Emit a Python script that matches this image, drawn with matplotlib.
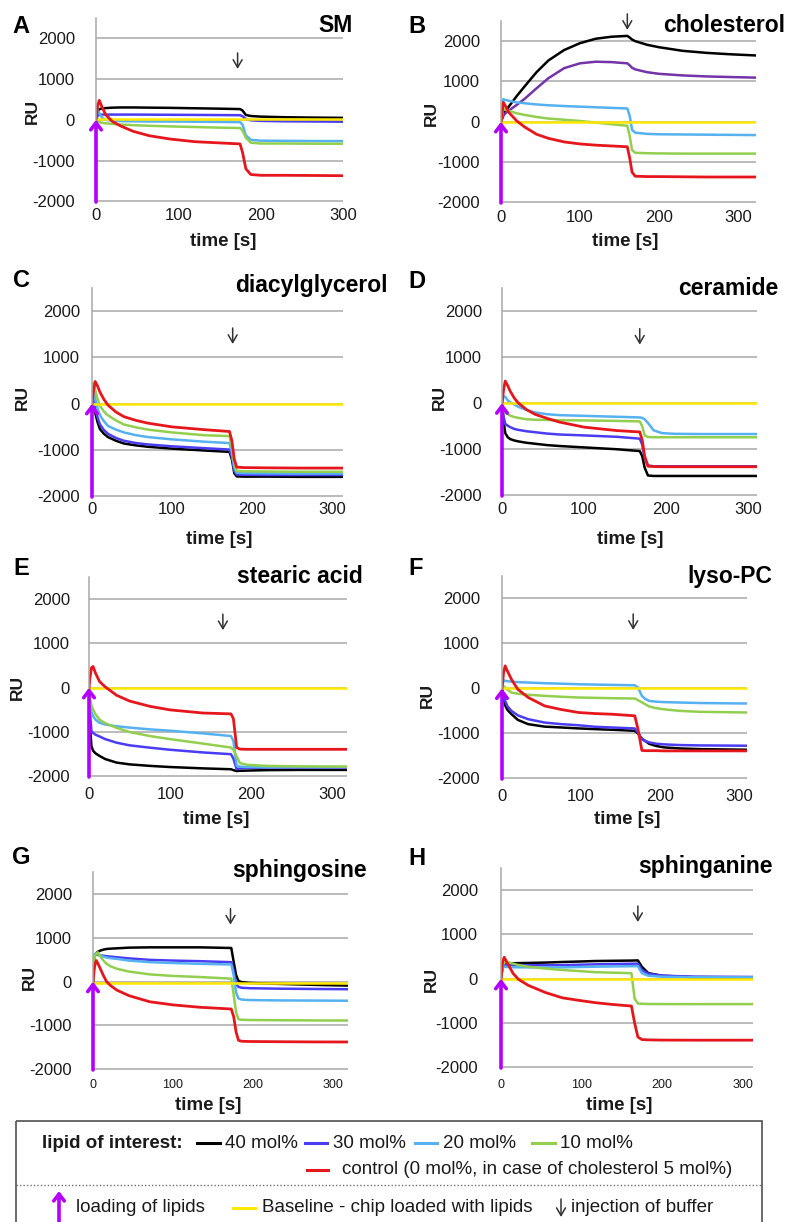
import matplotlib
matplotlib.use('Agg')
import matplotlib.pyplot as plt
from matplotlib.patches import Rectangle

plt.rcParams['font.family'] = ['Liberation Sans', 'DejaVu Sans']

# ---------- Sensorgrams (time in s, response in RU)
# A: SM
t_sm = [0, 2, 4, 7, 12, 20, 30, 45, 65, 90, 120, 150, 175, 178, 182, 188, 200, 230, 270, 300]
sm_40 = [0, 200, 260, 280, 290, 300, 305, 305, 300, 295, 285, 275, 265, 230, 120, 95, 80, 65, 55, 50]
sm_30 = [0, 100, 125, 130, 130, 130, 130, 130, 128, 125, 122, 118, 115, 90, 20, -10, -25, -35, -40, -45]
sm_20 = [0, 250, 170, 60, 0, -20, -30, -35, -40, -40, -45, -50, -55, -120, -380, -490, -510, -515, -520, -520]
sm_10 = [0, -30, -50, -70, -85, -100, -115, -130, -145, -160, -175, -190, -200, -260, -440, -560, -580, -580, -585, -585]
sm_ctrl = [0, 350, 480, 330, 120, -40, -150, -280, -390, -470, -535, -565, -590, -800, -1200, -1340, -1360, -1360, -1365, -1370]
sm_base = [20, 20]

# B: cholesterol
t_chol = [0, 3, 6, 10, 20, 30, 45, 60, 80, 100, 120, 140, 160, 163, 166, 170, 185, 200, 230, 260, 290, 323]
chol_40 = [0, 180, 270, 380, 640, 880, 1230, 1520, 1780, 1950, 2060, 2110, 2130, 2090, 2040, 2000, 1910, 1850, 1760, 1710, 1675, 1645]
chol_30 = [0, 150, 220, 280, 420, 570, 830, 1080, 1330, 1450, 1490, 1480, 1450, 1400, 1340, 1300, 1230, 1190, 1150, 1125, 1110, 1095]
chol_20 = [0, 560, 540, 520, 480, 460, 430, 410, 390, 375, 360, 345, 330, 150, -200, -270, -300, -310, -315, -320, -325, -330]
chol_10 = [0, 330, 300, 270, 210, 170, 120, 80, 50, 20, -20, -60, -100, -350, -700, -770, -780, -785, -790, -790, -790, -790]
chol_ctrl = [0, 480, 380, 230, 20, -130, -310, -410, -500, -550, -580, -600, -620, -900, -1250, -1350, -1360, -1360, -1365, -1370, -1370, -1370]
chol_base = [0, 0]

# C: diacylglycerol
t_dag = [0, 2, 4, 7, 10, 15, 20, 30, 40, 55, 70, 100, 140, 172, 175, 178, 181, 190, 220, 260, 314]
dag_40 = [0, 100, -200, -400, -550, -650, -720, -800, -860, -900, -930, -970, -1010, -1040, -1200, -1500, -1570, -1575, -1575, -1580, -1580]
dag_30 = [0, 150, -100, -300, -450, -570, -650, -740, -800, -850, -880, -920, -960, -990, -1150, -1450, -1530, -1535, -1540, -1540, -1540]
dag_20 = [0, 300, 100, -100, -250, -380, -480, -560, -620, -680, -720, -770, -820, -850, -1050, -1380, -1490, -1500, -1505, -1510, -1510]
dag_10 = [0, 450, 300, 100, -50, -170, -250, -360, -450, -510, -560, -620, -680, -700, -950, -1300, -1450, -1460, -1465, -1470, -1470]
dag_ctrl = [0, 300, 480, 380, 250, 90, -30, -180, -280, -360, -420, -500, -560, -600, -800, -1200, -1370, -1380, -1385, -1390, -1390]
dag_base = [0, 0]

# D: ceramide
t_cer = [0, 2, 4, 7, 10, 15, 20, 30, 40, 55, 70, 100, 140, 168, 171, 174, 178, 185, 195, 210, 240, 311]
cer_40 = [0, -400, -650, -740, -780, -810, -830, -860, -880, -910, -930, -960, -1000, -1040, -1150, -1400, -1570, -1580, -1580, -1580, -1580, -1580]
cer_30 = [0, -300, -450, -490, -520, -560, -580, -610, -630, -660, -680, -700, -730, -770, -900, -1200, -1350, -1370, -1370, -1370, -1370, -1370]
cer_20 = [0, 150, 140, 60, 20, -30, -80, -150, -200, -240, -260, -275, -295, -310, -320, -350, -430, -590, -650, -665, -670, -670]
cer_10 = [0, -150, -200, -240, -270, -300, -320, -350, -360, -365, -370, -375, -385, -395, -500, -700, -735, -740, -740, -740, -740, -740]
cer_ctrl = [0, 300, 480, 380, 260, 110, 0, -140, -240, -330, -410, -520, -595, -625, -800, -1150, -1370, -1375, -1380, -1380, -1380, -1380]
cer_base = [0, 0]

# E: stearic acid
t_stear = [0, 1, 3, 5, 8, 13, 20, 34, 50, 75, 100, 140, 175, 178, 182, 186, 195, 220, 260, 318]
stear_40 = [0, -800, -1320, -1420, -1480, -1540, -1610, -1690, -1730, -1764, -1790, -1820, -1840, -1860, -1880, -1875, -1870, -1860, -1855, -1855]
stear_30 = [0, -500, -980, -1020, -1060, -1100, -1160, -1240, -1300, -1353, -1400, -1460, -1500, -1600, -1840, -1820, -1810, -1800, -1800, -1800]
stear_20 = [0, -300, -550, -640, -720, -790, -830, -870, -900, -940, -970, -1030, -1090, -1200, -1760, -1780, -1790, -1790, -1790, -1790]
stear_10 = [0, -200, -400, -490, -600, -720, -800, -905, -1000, -1090, -1160, -1260, -1350, -1400, -1550, -1700, -1740, -1765, -1775, -1780]
stear_ctrl = [0, 200, 450, 480, 330, 140, 20, -170, -300, -420, -500, -570, -590, -700, -1350, -1385, -1390, -1390, -1390, -1390]
stear_base = [0, 0]

# F: lyso-PC
t_lyso = [0, 2, 4, 7, 12, 20, 33, 54, 75, 97, 118, 140, 168, 172, 177, 181, 186, 195, 205, 225, 250, 310]
lyso_40 = [0, -240, -380, -480, -573, -700, -795, -850, -869, -890, -906, -920, -943, -1000, -1120, -1165, -1230, -1280, -1312, -1335, -1350, -1364]
lyso_30 = [0, -166, -280, -400, -500, -600, -684, -760, -795, -820, -854, -870, -891, -980, -1128, -1170, -1200, -1230, -1245, -1260, -1268, -1275]
lyso_20 = [0, 180, 170, 160, 150, 140, 130, 115, 105, 92, 85, 78, 70, 20, -166, -230, -277, -295, -305, -314, -325, -336]
lyso_10 = [0, 50, 20, -30, -92, -120, -140, -166, -185, -203, -210, -218, -225, -260, -310, -350, -400, -440, -465, -500, -520, -536]
lyso_ctrl = [0, 350, 500, 380, 200, -20, -200, -390, -470, -536, -560, -575, -610, -900, -1380, -1385, -1385, -1385, -1390, -1390, -1390, -1390]
lyso_base = [0, 0]

# G: sphingosine
t_sph = [0, 2, 4, 6, 9, 13, 17, 22, 30, 45, 71, 100, 134, 173, 176, 179, 182, 186, 196, 230, 280, 319]
sph_40 = [0, 600, 650, 680, 707, 730, 745, 752, 760, 775, 782, 782, 782, 767, 450, 150, 15, -10, -30, -50, -75, -90]
sph_30 = [0, 600, 616, 610, 600, 590, 580, 570, 556, 530, 496, 480, 466, 444, 250, -60, -120, -140, -150, -160, -168, -173]
sph_20 = [0, 620, 646, 630, 600, 570, 550, 535, 519, 480, 444, 425, 406, 391, 150, -250, -383, -410, -420, -428, -432, -436]
sph_10 = [0, 550, 640, 670, 580, 480, 406, 350, 293, 230, 165, 130, 105, 68, -300, -700, -857, -870, -875, -880, -885, -887]
sph_ctrl = [0, 350, 481, 420, 300, 140, 0, -90, -195, -320, -459, -530, -585, -624, -800, -1150, -1338, -1360, -1365, -1370, -1375, -1376]
sph_base = [-20, -20]

# H: sphinganine
t_sphn = [0, 2, 4, 8, 15, 22, 34, 55, 76, 96, 117, 138, 162, 166, 170, 175, 183, 200, 240, 313]
sphn_40 = [0, 300, 342, 345, 350, 353, 357, 365, 378, 388, 400, 405, 410, 412, 414, 270, 126, 68, 35, 32]
sphn_30 = [0, 280, 306, 306, 306, 306, 306, 306, 306, 315, 325, 332, 338, 340, 342, 198, 112, 70, 48, 40]
sphn_20 = [0, 250, 270, 265, 260, 258, 256, 256, 256, 265, 272, 278, 283, 284, 285, 126, 68, 45, 35, 32]
sphn_10 = [0, 300, 370, 378, 340, 310, 270, 230, 198, 175, 148, 137, 126, -450, -558, -565, -570, -572, -573, -573]
sphn_ctrl = [0, 380, 486, 350, 120, -18, -150, -310, -430, -486, -540, -580, -616, -1000, -1315, -1373, -1380, -1385, -1387, -1387]
sphn_base = [0, 0]

# buffer injection times (s), one per panel
inj_times = [172, 160, 176, 168, 165, 166, 172, 170]

ru_ticks = [-2000, -1000, 0, 1000, 2000]
ru_labels = ['-2000', '-1000', '0', '1000', '2000']
time_ticks = [0, 100, 200, 300]
mol_labels = ['40 mol%', '30 mol%', '20 mol%', '10 mol%']
ctrl_label = 'control (0 mol%, in case of cholesterol 5 mol%)'

# ---------- Colours
c40 = '#000000'
c30 = '#4a3cf2'
c30_chol = '#7433a8'
c20 = '#55b1f0'
c10 = '#92cf4f'
cctrl = '#e5161c'
cbase = '#ffe800'
cload = '#b400ff'
grid_col = '#a8a8a8'
txt_col = '#1a1a1a'
arrow_col = '#333333'

W, H = 791, 1222
fig = plt.figure(figsize=(W / 100, H / 100), dpi=100)


def px_box(left, right, top, bottom):
    return [left / W, 1 - bottom / H, (right - left) / W, (bottom - top) / H]


down_arrow = dict(arrowstyle='->,head_length=0.55,head_width=0.32', color=arrow_col,
                  lw=1.1, shrinkA=0, shrinkB=0)
load_arrow = dict(arrowstyle='->,head_length=0.5,head_width=0.38', color=cload,
                  lw=2.6, shrinkA=0, shrinkB=0)

# letter, title, axes box (l, r, t, b px), xmax, t, curves, control, baseline,
# arrow tip height, y/x tick pads (px), x tick size, label positions (px)
panels = [
    dict(letter='A', title='SM', box=(96, 343, 18, 202), xmax=300, t=t_sm,
         curves=[(sm_40, c40), (sm_30, c30), (sm_20, c20), (sm_10, c10)],
         ctrl=sm_ctrl, base=sm_base, inj_y=1250, ypad=21, xpad=6, xsize=12,
         let=(12, 33), tit=(353, 32), ru=(32, 112), tl=(223, 241)),
    dict(letter='B', title='cholesterol', box=(501, 756, 21, 203), xmax=323, t=t_chol,
         curves=[(chol_40, c40), (chol_30, c30_chol), (chol_20, c20), (chol_10, c10)],
         ctrl=chol_ctrl, base=chol_base, inj_y=2280, ypad=21, xpad=7, xsize=12,
         let=(408, 33), tit=(785, 32), ru=(431, 113), tl=(625, 241)),
    dict(letter='C', title='diacylglycerol', box=(92, 343, 288, 497), xmax=314, t=t_dag,
         curves=[(dag_40, c40), (dag_30, c30), (dag_20, c20), (dag_10, c10)],
         ctrl=dag_ctrl, base=dag_base, inj_y=1290, ypad=12, xpad=5, xsize=12,
         let=(13, 287), tit=(388, 292), ru=(22, 397), tl=(219, 539)),
    dict(letter='D', title='ceramide', box=(502, 757, 288, 496), xmax=311, t=t_cer,
         curves=[(cer_40, c40), (cer_30, c30), (cer_20, c20), (cer_10, c10)],
         ctrl=cer_ctrl, base=cer_base, inj_y=1270, ypad=20, xpad=6, xsize=12,
         let=(408, 288), tit=(778, 295), ru=(439, 398), tl=(630, 539)),
    dict(letter='E', title='stearic acid', box=(89, 347, 577, 777), xmax=318, t=t_stear,
         curves=[(stear_40, c40), (stear_30, c30), (stear_20, c20), (stear_10, c10)],
         ctrl=stear_ctrl, base=stear_base, inj_y=1300, ypad=19, xpad=10, xsize=12,
         let=(13, 575), tit=(363, 583), ru=(17, 687), tl=(216, 819)),
    dict(letter='F', title='lyso-PC', box=(502, 747, 576, 779), xmax=310, t=t_lyso,
         curves=[(lyso_40, c40), (lyso_30, c30), (lyso_20, c20), (lyso_10, c10)],
         ctrl=lyso_ctrl, base=lyso_base, inj_y=1300, ypad=22, xpad=10, xsize=12,
         let=(408, 575), tit=(772, 583), ru=(427, 695), tl=(627, 820)),
    dict(letter='G', title='sphingosine', box=(93, 348, 872, 1070), xmax=319, t=t_sph,
         curves=[(sph_40, c40), (sph_30, c30), (sph_20, c20), (sph_10, c10)],
         ctrl=sph_ctrl, base=sph_base, inj_y=1300, ypad=21, xpad=9, xsize=9,
         let=(12, 864), tit=(367, 877), ru=(29, 977), tl=(208, 1105)),
    dict(letter='H', title='sphinganine', box=(501, 753, 868, 1068), xmax=313, t=t_sphn,
         curves=[(sphn_40, c40), (sphn_30, c30), (sphn_20, c20), (sphn_10, c10)],
         ctrl=sphn_ctrl, base=sphn_base, inj_y=1280, ypad=23, xpad=11, xsize=9,
         let=(408, 865), tit=(773, 873), ru=(431, 980), tl=(619, 1105)),
]

for p, inj in zip(panels, inj_times):
    ax = fig.add_axes(px_box(*p['box']))
    ax.set_xlim(0, p['xmax'])
    ax.set_ylim(-2015, 2500)
    ax.set_yticks(ru_ticks)
    ax.set_yticklabels(ru_labels)
    ax.set_xticks(time_ticks)
    ax.tick_params(length=0, colors=txt_col)
    ax.tick_params(axis='y', labelsize=12, pad=p['ypad'] * 0.72)
    ax.tick_params(axis='x', labelsize=p['xsize'], pad=p['xpad'] * 0.72)
    ax.yaxis.grid(True, color=grid_col, lw=1.1)
    ax.set_axisbelow(True)
    for s in ['top', 'right', 'bottom']:
        ax.spines[s].set_visible(False)
    ax.spines['left'].set_color(grid_col)
    ax.spines['left'].set_linewidth(1.1)
    ax.spines['left'].set_bounds(-2000, 2500)
    ax.patch.set_visible(False)

    for vals, col in p['curves']:
        ax.plot(p['t'], vals, color=col, lw=1.8, solid_joinstyle='round')
    ax.plot([0, p['xmax']], p['base'], color=cbase, lw=1.8)
    ax.plot(p['t'], p['ctrl'], color=cctrl, lw=2.0, solid_joinstyle='round')

    # loading of lipids
    ax.annotate('', xy=(0, 0), xytext=(0, -2015), arrowprops=load_arrow,
                annotation_clip=False, zorder=6)
    # injection of buffer
    ax.annotate('', xy=(inj, p['inj_y']), xytext=(0, 16), textcoords='offset pixels',
                arrowprops=down_arrow, annotation_clip=False)

# ---------- Labels and legend, placed in pixel coordinates
ov = fig.add_axes([0, 0, 1, 1])
ov.set_xlim(0, W)
ov.set_ylim(H, 0)
ov.axis('off')

for p in panels:
    ov.text(p['let'][0], p['let'][1], p['letter'], fontsize=17, fontweight='bold',
            ha='left', va='baseline', color='black')
    ov.text(p['tit'][0], p['tit'][1], p['title'], fontsize=16.5, fontweight='bold',
            ha='right', va='baseline', color='black')
    ov.text(p['ru'][0], p['ru'][1], 'RU', fontsize=12.5, fontweight='bold',
            rotation=90, ha='center', va='center', color=txt_col)
    ov.text(p['tl'][0], p['tl'][1], 'time [s]', fontsize=13.5, fontweight='bold',
            ha='center', va='center', color=txt_col)

ov.add_patch(Rectangle((16, 1121), 746, 130, fill=False, ec='#505050', lw=1.2,
                       clip_on=False))

leg_fs = 13.5
ov.text(42, 1143, 'lipid of interest:', fontsize=leg_fs, fontweight='bold',
        ha='left', va='center', color=txt_col)
for lbl, col, (x0, x1, xt) in zip(mol_labels, [c40, c30, c20, c10],
                                  [(197, 220, 225), (305, 327, 333),
                                   (415, 437, 443), (532, 555, 560)]):
    ov.plot([x0, x1], [1143, 1143], color=col, lw=2.2)
    ov.text(xt, 1143, lbl, fontsize=leg_fs, ha='left', va='center', color=txt_col)

ov.plot([307, 328], [1170, 1170], color=cctrl, lw=2.2)
ov.text(342, 1170, ctrl_label, fontsize=leg_fs, ha='left', va='center', color=txt_col)

ov.plot([16, 762], [1185, 1185], color='#707070', lw=1, ls=(0, (1, 1.5)))

ov.annotate('', xy=(59, 1191), xytext=(59, 1226), arrowprops=load_arrow,
            annotation_clip=False)
ov.text(76, 1208, 'loading of lipids', fontsize=leg_fs, ha='left', va='center',
        color=txt_col)
ov.plot([233, 255], [1208, 1208], color=cbase, lw=2.2)
ov.text(262, 1208, 'Baseline - chip loaded with lipids', fontsize=leg_fs,
        ha='left', va='center', color=txt_col)
ov.annotate('', xy=(561, 1217), xytext=(561, 1199), arrowprops=down_arrow,
            annotation_clip=False)
ov.text(571, 1208, 'injection of buffer', fontsize=leg_fs, ha='left', va='center',
        color=txt_col)

fig.savefig('out.png', dpi=100)
